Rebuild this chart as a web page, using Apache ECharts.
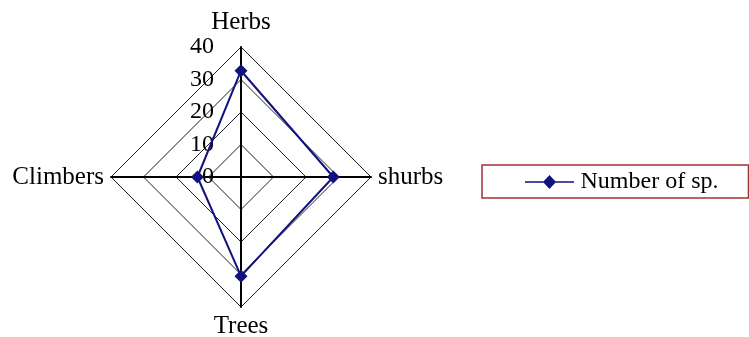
<!DOCTYPE html>
<html lang="en">
<head>
    <meta charset="UTF-8">
    <title>Number of species</title>
</head>
<style>
    body{
        margin: 0;
        padding: 0;
        background-color: #fff;
    }
    .main{
        width: 749px;
        height: 337px;
    }
</style>
<body>
    <div class="main"></div>
</body>
<script src="https://cdn.jsdelivr.net/npm/echarts@6/dist/echarts.min.js"></script>
<script>
  // data
  var indicatorNames = ['Herbs', 'Climbers', 'Trees', 'shurbs'];
  var speciesCount = [32.7, 13.4, 30.5, 28.4];
  var axisMax = 40;
  var seriesName = 'Number of sp.';

  var serif = '"Liberation Serif", "Times New Roman", serif';
  var myChart = echarts.init(document.querySelector('.main'));

  var indicator = indicatorNames.map(function (n, i) {
      var item = { name: n, max: axisMax, min: 0 };
      // only the top axis carries tick labels
      if (i !== 0) item.axisLabel = { show: false };
      return item;
  });

  var option = {
      backgroundColor: '#fff',
      animation: false,
      radar: {
          center: [241, 177],
          radius: 130,
          shape: 'polygon',
          splitNumber: 4,
          indicator: indicator,
          nameGap: 7,
          axisName: {
              color: '#000',
              fontFamily: serif,
              fontSize: 25
          },
          axisLine: { lineStyle: { color: '#000', width: 2 } },
          splitLine: { lineStyle: { color: '#222', width: 1 } },
          splitArea: { show: false },
          axisLabel: {
              show: true,
              color: '#000',
              fontFamily: serif,
              fontSize: 24,
              margin: 27
          }
      },
      legend: {
          left: 482,
          top: 165,
          orient: 'horizontal',
          borderColor: '#a33035',
          borderWidth: 1.5,
          padding: [5, 30, 4, 43],
          itemWidth: 52,
          itemHeight: 14,
          icon: 'path://M0,5.3L16,5.3L21,0L26,5.3L42,5.3L42,6.7L26,6.7L21,12L16,6.7L0,6.7Z',
          textStyle: { color: '#000', fontFamily: serif, fontSize: 24 },
          data: [seriesName]
      },
      series: [{
          type: 'radar',
          name: seriesName,
          symbol: 'diamond',
          symbolSize: 13,
          lineStyle: { color: '#12127f', width: 2 },
          itemStyle: { color: '#12127f' },
          data: [{ value: speciesCount, name: seriesName }]
      }]
  };
  myChart.setOption(option);
</script>
</html>
